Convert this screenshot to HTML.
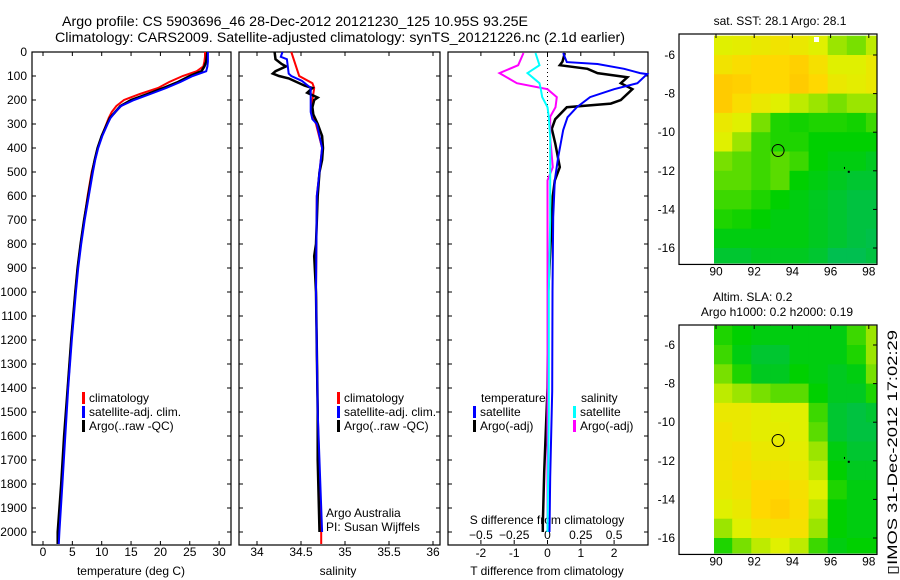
<!DOCTYPE html>
<html><head><meta charset="utf-8"><style>
body{margin:0;background:#fff}
svg{display:block;font-family:"Liberation Sans",sans-serif}
text{font-size:12px;fill:#000}
</style></head><body>
<svg id="c" width="900" height="580" viewBox="0 0 900 580" xmlns="http://www.w3.org/2000/svg">
<text x="62" y="26" textLength="466" lengthAdjust="spacingAndGlyphs" style="font-size:14px">Argo profile: CS 5903696_46 28-Dec-2012 20121230_125 10.95S 93.25E</text>
<text x="55" y="42" textLength="570" lengthAdjust="spacingAndGlyphs" style="font-size:14px">Climatology: CARS2009. Satellite-adjusted climatology: synTS_20121226.nc (2.1d earlier)</text>
<g id="g"></g>
</svg>
<script>
// ---------- data ----------
const tDepth=[0,20,40,60,80,100,125,150,175,200,225,250,275,300,350,400,450,500,600,700,800,900,1000,1200,1400,1600,1800,2000,2050];
const tClim=[27.6,27.6,27.5,27.3,26.2,23.8,21.5,19.6,16.5,13.8,12.5,11.7,11.2,10.8,10.0,9.3,8.8,8.3,7.6,7.0,6.4,5.9,5.5,4.8,4.2,3.7,3.2,2.7,2.6];
const tSat=[28.1,28.1,28.1,28.0,27.8,25.5,23.4,21.0,18.3,15.5,13.3,12.3,11.5,11.0,10.1,9.4,8.9,8.5,7.8,7.1,6.5,6.0,5.6,4.9,4.3,3.8,3.3,2.8,2.7];
const tArgo=[28.0,27.9,27.8,27.5,27.0,25.0,23.0,20.5,17.8,15.0,13.2,12.3,11.4,10.9,10.0,9.3,8.8,8.4,7.7,7.0,6.4,5.9,5.5,4.8,4.2,3.6,3.1,2.5,2.5];
const sClimD=[0,100,130,150,200,250,300,400,500,600,1000,1500,2000,2050];
const sClim=[34.39,34.48,34.63,34.65,34.63,34.62,34.67,34.74,34.71,34.68,34.67,34.69,34.73,34.73];
const sSatD=[0,20,30,90,100,120,150,250,280,300,400,500,600,1000,1500,2000];
const sSat=[34.29,34.27,34.34,34.36,34.39,34.51,34.61,34.61,34.63,34.68,34.74,34.71,34.68,34.67,34.69,34.74];
const sArgoD=[0,30,50,60,80,90,100,110,140,150,170,190,200,230,260,300,350,400,450,500,600,800,850,1000,1500,1700,2000];
const sArgo=[34.2,34.21,34.28,34.33,34.21,34.18,34.25,34.36,34.54,34.63,34.57,34.69,34.65,34.63,34.64,34.69,34.74,34.75,34.74,34.71,34.69,34.67,34.65,34.67,34.69,34.69,34.71];
const dTD=[4,42,50,70,88,92,130,155,188,230,272,325,438,535,688,1000,1414,1770,2000];
const dTSat=[0.47,0.58,1.5,2.3,2.78,2.99,2.7,2.0,1.28,0.88,0.6,0.47,0.32,0.22,0.17,0.15,0.14,0.08,0.06];
const dTAD=[4,40,55,70,88,105,130,155,200,215,230,280,320,380,480,535,600,700,1000,1400,1750,1970,2000];
const dTArgo=[0.52,0.45,0.37,1.2,1.5,2.4,2.2,2.55,2.2,1.9,0.58,0.23,0.13,0.23,0.37,0.22,0.16,0.13,0.02,0.0,-0.1,-0.14,-0.14];
const dSD=[4,55,88,130,155,188,230,270,360,480,535,700,1000,1500,2000];
const dSArgo=[-0.18,-0.22,-0.36,-0.23,0.0,0.07,0.06,0.02,0.02,0.04,0.0,0.0,0.0,0.0,0.0];
const dSSat=[-0.09,-0.06,-0.15,-0.06,-0.05,-0.04,0.0,0.01,0.02,0.02,0.02,0.02,0.01,0.01,0.0];
const sstGrid=[
[0.7,0.72,0.75,0.78,0.75,0.7,0.6,0.55,0.65],
[0.78,0.82,0.85,0.85,0.88,0.8,0.7,0.7,0.75],
[0.9,0.88,0.85,0.85,0.9,0.85,0.75,0.72,0.75],
[0.9,0.82,0.75,0.7,0.65,0.6,0.55,0.6,0.6],
[0.75,0.7,0.55,0.4,0.38,0.4,0.4,0.38,0.45],
[0.7,0.6,0.45,0.4,0.4,0.35,0.35,0.35,0.35],
[0.55,0.5,0.45,0.5,0.45,0.35,0.3,0.3,0.25],
[0.5,0.5,0.45,0.5,0.35,0.3,0.25,0.2,0.2],
[0.45,0.45,0.4,0.35,0.3,0.25,0.2,0.15,0.15],
[0.4,0.38,0.35,0.3,0.3,0.25,0.2,0.15,0.15],
[0.3,0.3,0.3,0.3,0.3,0.25,0.2,0.15,0.12],
[0.2,0.2,0.25,0.25,0.25,0.2,0.1,0.1,0.15]];
const slaGrid=[
[0.4,0.35,0.3,0.3,0.3,0.3,0.3,0.45,0.6],
[0.45,0.3,0.2,0.2,0.3,0.3,0.3,0.4,0.6],
[0.55,0.4,0.25,0.25,0.35,0.3,0.25,0.3,0.55],
[0.65,0.6,0.55,0.5,0.5,0.35,0.25,0.25,0.4],
[0.75,0.75,0.72,0.7,0.7,0.45,0.2,0.15,0.2],
[0.78,0.75,0.72,0.72,0.7,0.5,0.2,0.15,0.15],
[0.78,0.8,0.75,0.75,0.72,0.6,0.3,0.2,0.2],
[0.78,0.82,0.78,0.78,0.75,0.65,0.35,0.25,0.25],
[0.75,0.78,0.85,0.85,0.8,0.7,0.4,0.3,0.3],
[0.7,0.75,0.85,0.88,0.82,0.65,0.35,0.3,0.3],
[0.6,0.7,0.78,0.8,0.8,0.6,0.35,0.3,0.3],
[0.4,0.55,0.65,0.7,0.65,0.45,0.3,0.35,0.35]];
const depthTicks=[0,100,200,300,400,500,600,700,800,900,1000,1100,1200,1300,1400,1500,1600,1700,1800,1900,2000];
const tTicks=[0,5,10,15,20,25,30];
const sTicks=[34,34.5,35,35.5,36];
const dTTicks=[-2,-1,0,1,2];
const dSTicks=[-0.5,-0.25,0,0.25,0.5];
const lonTicks=[90,92,94,96,98];
const latTicks=[-6,-8,-10,-12,-14,-16];
// ---------- helpers ----------
const NS='http://www.w3.org/2000/svg';
const G=document.getElementById('g');
function mk(tag,at,parent){const e=document.createElementNS(NS,tag);for(const k in at)e.setAttribute(k,at[k]);(parent||G).appendChild(e);return e;}
function txt(x,y,s,anchor,name,extra){const e=mk('text',Object.assign({x:x,y:y,'text-anchor':anchor||'middle'},extra||{}));e.textContent=s;


return e;}
const yD=d=>52+d*0.24;
function panel(x0,x1,name){const r=mk('rect',{x:x0,y:52,width:x1-x0,height:493,fill:'none',stroke:'#000','stroke-width':1.2});

}
panel(32,231,'temperature-panel');panel(239,440,'salinity-panel');panel(448,648,'difference-panel');
depthTicks.forEach(d=>{const y=yD(d);
txt(27,y+4,String(d),'end','depth-tick-label');
[[32,36],[231,227],[239,243],[440,436],[448,452],[648,644]].forEach(p=>mk('line',{x1:p[0],x2:p[1],y1:y,y2:y,stroke:'#000'}));});
const xT=t=>43+t*5.87, xS=s=>257+(s-34)*88, xDT=v=>547.5+v*33.3, xDS=v=>547.5+v*133.2;
tTicks.forEach(t=>{const x=xT(t);txt(x,556,String(t),'middle','temperature-tick-label');mk('line',{x1:x,x2:x,y1:545,y2:541,stroke:'#000'});mk('line',{x1:x,x2:x,y1:52,y2:56,stroke:'#000'});});
sTicks.forEach(t=>{const x=xS(t);txt(x,556,String(t),'middle','salinity-tick-label');mk('line',{x1:x,x2:x,y1:545,y2:541,stroke:'#000'});mk('line',{x1:x,x2:x,y1:52,y2:56,stroke:'#000'});});
dTTicks.forEach(t=>{const x=xDT(t);txt(x,557,String(t),'middle','t-diff-tick-label');mk('line',{x1:x,x2:x,y1:544,y2:540,stroke:'#000'});mk('line',{x1:x,x2:x,y1:52,y2:56,stroke:'#000'});});
dSTicks.forEach(t=>{txt(xDS(t),539,String(t).replace('-','\u2212'),'middle','s-diff-tick-label');});
txt(131,575,'temperature (deg C)','middle','temperature-axis-title');
txt(338,575,'salinity','middle','salinity-axis-title');
txt(547,575,'T difference from climatology','middle','t-diff-axis-title');
txt(547,524,'S difference from climatology','middle','s-diff-axis-title');
mk('line',{x1:547.5,x2:547.5,y1:52,y2:yD(650),stroke:'#000','stroke-dasharray':'1,3'});
function line(xs,ds,fx,col,w,name){const p=xs.map((v,i)=>fx(v).toFixed(1)+','+yD(ds[i]).toFixed(1)).join(' ');
const e=mk('polyline',{points:p,fill:'none',stroke:col,'stroke-width':w});

}
line(tClim,tDepth,xT,'#f00',2,'temperature-climatology-line');
line(tArgo,tDepth,xT,'#000',2.5,'temperature-argo-line');
line(tSat,tDepth,xT,'#00f',2,'temperature-satellite-line');
line(sClim,sClimD,xS,'#f00',2,'salinity-climatology-line');
line(sArgo,sArgoD,xS,'#000',2.5,'salinity-argo-line');
line(sSat,sSatD,xS,'#00f',2,'salinity-satellite-line');
line(dTArgo,dTAD,xDT,'#000',2.5,'t-diff-argo-line');
line(dTSat,dTD,xDT,'#00f',2,'t-diff-satellite-line');
line(dSArgo,dSD,xDS,'#f0f',2,'s-diff-argo-line');
line(dSSat,dSD,xDS,'#0ff',2,'s-diff-satellite-line');
function leg(x,y,col,label,name){mk('rect',{x:x,y:y-10,width:3,height:12,fill:col});txt(x+7,y,label,'start',name);}
leg(82,402,'#f00','climatology','legend-climatology');leg(82,416,'#00f','satellite-adj. clim.','legend-satellite');leg(82,430,'#000','Argo(..raw -QC)','legend-argo');
leg(337,402,'#f00','climatology','legend-climatology-2');leg(337,416,'#00f','satellite-adj. clim.','legend-satellite-2');leg(337,430,'#000','Argo(..raw -QC)','legend-argo-2');
txt(481,402,'temperature','start','legend-temperature-heading');
leg(473,416,'#00f','satellite','legend-t-satellite');leg(473,430,'#000','Argo(-adj)','legend-t-argo');
txt(581,402,'salinity','start','legend-salinity-heading');
leg(573,416,'#0ff','satellite','legend-s-satellite');leg(573,430,'#f0f','Argo(-adj)','legend-s-argo');
txt(326,517,'Argo Australia','start','credit-argo-australia');
txt(326,531,'PI: Susan Wijffels','start','credit-pi');
function col(v){const st=[[0,[0,184,112]],[0.35,[0,208,0]],[0.55,[120,224,0]],[0.7,[224,240,0]],[0.85,[255,216,0]],[1,[255,176,0]]];
for(let i=1;i<st.length;i++){if(v<=st[i][0]){const a=st[i-1],b=st[i],f=(v-a[0])/(b[0]-a[0]);return 'rgb('+a[1].map((c,k)=>Math.round(c+(b[1][k]-c)*f)).join(',')+')';}}return 'rgb(255,176,0)';}
function map(top,lat6,grid,name,clipId){
const xL=l=>716+(l-90)*19.1, yL=l=>lat6+(-6-l)*19.3;
const defs=mk('defs',{});const cp=mk('clipPath',{id:clipId},defs);mk('rect',{x:714,y:top,width:163,height:yL(-16.8)-top},cp);
const gg=mk('g',{'clip-path':'url(#'+clipId+')'});


grid.forEach((row,r)=>row.forEach((v,c)=>{mk('rect',{x:xL(89.85+c).toFixed(1),y:yL(-5-r).toFixed(1),width:19.6,height:19.8,fill:col(v)},gg);}));
mk('rect',{x:679,y:top,width:198,height:yL(-16.8)-top+1,fill:'none',stroke:'#000','stroke-width':1.2});
lonTicks.forEach(l=>{const x=xL(l);mk('line',{x1:x,x2:x,y1:top,y2:top+4,stroke:'#000'});txt(x,yL(-16.8)+12,String(l),'middle','longitude-tick-label');});
latTicks.forEach(l=>{const y=yL(l);mk('line',{x1:877,x2:873,y1:y,y2:y,stroke:'#000'});txt(675,y+4,String(l),'end','latitude-tick-label');});
mk('circle',{cx:xL(93.25),cy:yL(-10.95),r:6,fill:'none',stroke:'#000'});
mk('rect',{x:xL(96.7),y:yL(-11.8),width:1,height:2,fill:'#000'});mk('rect',{x:xL(96.9),y:yL(-12),width:2,height:2,fill:'#000'});
}
map(34,55,sstGrid,'sst-map','c1');
mk('rect',{x:814,y:37,width:5,height:5,fill:'#fff'});
map(325,345,slaGrid,'sla-map','c2');
txt(780,25,'sat. SST: 28.1  Argo: 28.1','middle','sst-map-title');
txt(713,301,'Altim. SLA: 0.2','start','sla-map-title');
txt(777,316,'Argo h1000: 0.2 h2000: 0.19','middle','sla-map-subtitle');
txt(0,0,'\u25AFIMOS 31-Dec-2012 17:02:29','start','timestamp',{transform:'translate(897,575) rotate(-90)',textLength:'245',lengthAdjust:'spacingAndGlyphs',style:'font-size:14px'});
</script>
</body></html>
